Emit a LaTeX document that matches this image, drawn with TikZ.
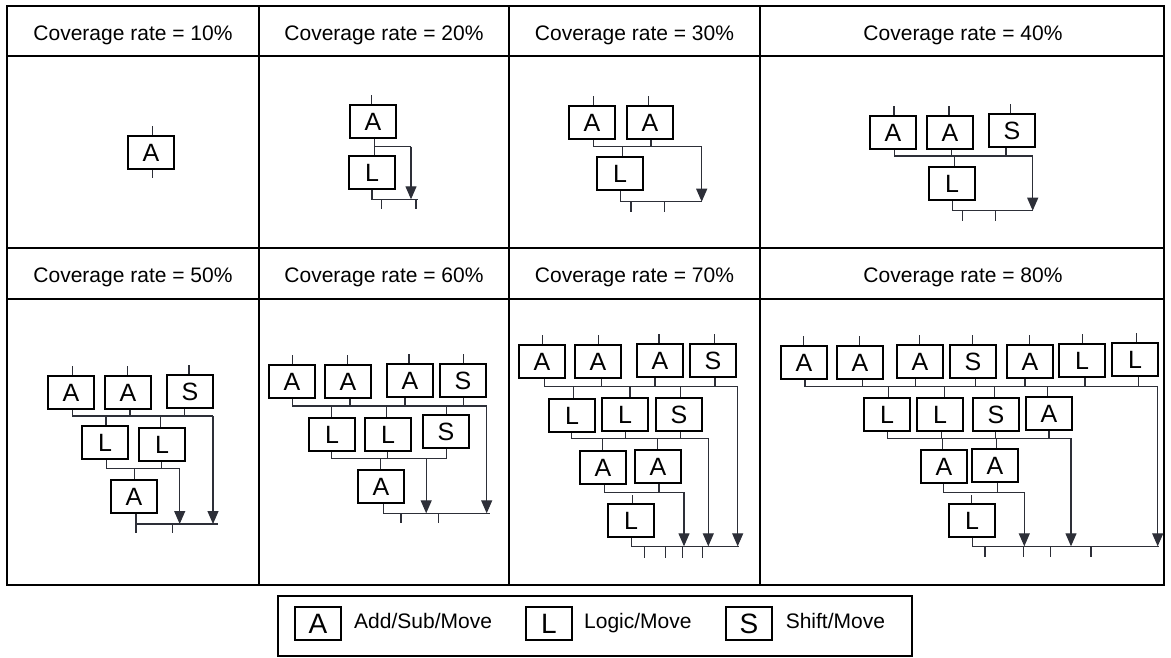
\documentclass[tikz,border=0pt]{standalone}
\usepackage{fontspec}
\setmainfont{Liberation Sans}
\usetikzlibrary{arrows.meta}
\definecolor{wirec}{RGB}{45,47,56}
\begin{document}
\begin{tikzpicture}[x=1pt,y=-1pt,
  tabline/.style={line width=1.5pt,draw=black},
  box/.style={draw=black,line width=1.6pt,fill=white,minimum width=46pt,minimum height=33pt,inner sep=0pt,font=\fontsize{25}{25}\selectfont},
  wire/.style={draw=wirec,line width=1.2pt},
  arr/.style={wire,-{Triangle[width=11pt,length=13pt]}},
  hdr/.style={anchor=base,inner sep=0pt,font=\fontsize{21}{21}\selectfont},
  lgbox/.style={box,font=\fontsize{28}{28}\selectfont},
  lgtxt/.style={anchor=base west,inner sep=0pt,font=\fontsize{21}{21}\selectfont}]
\useasboundingbox (0,0) rectangle (1171,657);

% ---------- table ----------
\draw[tabline] (7,6) rectangle (1164,585);
\draw[tabline] (7,56) -- (1164,56);
\draw[tabline] (7,248) -- (1164,248);
\draw[tabline] (7,299) -- (1164,299);
\draw[tabline] (259,6) -- (259,585);
\draw[tabline] (509,6) -- (509,585);
\draw[tabline] (760,6) -- (760,585);

\node[hdr] (h1) at (133,40.7) {Coverage rate = 10\%};
\node[hdr] (h2) at (384,40.7) {Coverage rate = 20\%};
\node[hdr] (h3) at (634.5,40.7) {Coverage rate = 30\%};
\node[hdr] (h4) at (963,40.7) {Coverage rate = 40\%};
\node[hdr] (h5) at (133,282.5) {Coverage rate = 50\%};
\node[hdr] (h6) at (384,282.5) {Coverage rate = 60\%};
\node[hdr] (h7) at (634.5,282.5) {Coverage rate = 70\%};
\node[hdr] (h8) at (963,282.5) {Coverage rate = 80\%};

% ---------- 10% ----------
\node[box] (c1a) at (151,152.5) {A};
\draw[wire] ([xshift=1.5pt]c1a.north) -- ++(0,-9);
\draw[wire] ([xshift=1.5pt]c1a.south) -- ++(0,8);

% ---------- 20% ----------
\node[box] (c2a) at (373,121.5) {A};
\node[box] (c2l) at (372,172.5) {L};
\coordinate (c2b1) at (411,146.7);
\coordinate (c2o) at (418.3,199.3);
\draw[wire] ([xshift=-1.5pt]c2a.north) -- ++(0,-9);
\draw[wire] ([xshift=1.3pt]c2a.south) |- (c2b1);
\draw[wire] ([xshift=2.3pt]c2l.north) |- (c2b1);
\draw[arr] (c2b1) -- (c2b1 |- c2o);
\draw[wire] (c2l.south) |- (c2o);
\draw[wire] (c2o) ++(-36.6,0) -- ++(0,10);
\draw[wire] (c2o) ++(-2.3,0) -- ++(0,10);

% ---------- 30% ----------
\node[box] (c3a1) at (592,122.5) {A};
\node[box] (c3a2) at (650,122.5) {A};
\node[box] (c3l) at (620,173.5) {L};
\coordinate (c3b1) at (701.7,146.7);
\coordinate (c3o) at (701.7,201.7);
\draw[wire] ([xshift=1.1pt]c3a1.north) -- ++(0,-9);
\draw[wire] ([xshift=-1.5pt]c3a2.north) -- ++(0,-9);
\draw[wire] ([xshift=1.3pt]c3a1.south) |- (c3b1);
\draw[wire] ([xshift=1pt]c3a2.south) |- (c3b1);
\draw[wire] ([xshift=2.7pt]c3l.north) |- (c3b1);
\draw[arr] (c3b1) -- (c3b1 |- c3o);
\draw[wire] ([xshift=0.7pt]c3l.south) |- (c3o);
\draw[wire] (c3o) ++(-70.7,0) -- ++(0,10);
\draw[wire] (c3o) ++(-37.4,0) -- ++(0,10);

% ---------- 40% ----------
\node[box] (c4a1) at (893,132.5) {A};
\node[box] (c4a2) at (950,132.5) {A};
\node[box] (c4s) at (1012,130.5) {S};
\node[box] (c4l) at (952,183.5) {L};
\coordinate (c4b1) at (1032.7,156);
\coordinate (c4o) at (1032.7,210.7);
\draw[wire] ([xshift=1pt]c4a1.north) -- ++(0,-9);
\draw[wire] ([xshift=-1pt]c4a2.north) -- ++(0,-9);
\draw[wire] ([xshift=-1.3pt]c4s.north) -- ++(0,-9);
\draw[wire] ([xshift=1.3pt]c4a1.south) |- (c4b1);
\draw[wire] ([xshift=1.7pt]c4a2.south) |- (c4b1);
\draw[wire] ([xshift=-6pt]c4s.south) |- (c4b1);
\draw[wire] ([xshift=2.3pt]c4l.north) |- (c4b1);
\draw[arr] (c4b1) -- (c4b1 |- c4o);
\draw[wire] ([xshift=0.3pt]c4l.south) |- (c4o);
\draw[wire] (c4o) ++(-70.4,0) -- ++(0,10);
\draw[wire] (c4o) ++(-37,0) -- ++(0,10);

% ---------- 50% ----------
\node[box] (c5a1) at (71,392.5) {A};
\node[box] (c5a2) at (128,392.5) {A};
\node[box] (c5s) at (190,391.5) {S};
\node[box] (c5l1) at (105,442.5) {L};
\node[box] (c5l2) at (162,444.5) {L};
\node[box] (c5a3) at (134,496.5) {A};
\coordinate (c5b1) at (213,416);
\coordinate (c5b2) at (179.7,468.3);
\coordinate (c5o) at (218,524);
\draw[wire] ([xshift=1.7pt]c5a1.north) -- ++(0,-9);
\draw[wire] ([xshift=-0.7pt]c5a2.north) -- ++(0,-9);
\draw[wire] ([xshift=-1pt]c5s.north) -- ++(0,-9);
\draw[wire] ([xshift=1.7pt]c5a1.south) |- (c5b1);
\draw[wire] ([xshift=2pt]c5a2.south) |- (c5b1);
\draw[wire] ([xshift=-5.7pt]c5s.south) |- (c5b1);
\draw[wire] ([xshift=1pt]c5l1.north) |- (c5b1);
\draw[wire] ([xshift=-1.3pt]c5l2.north) |- (c5b1);
\draw[wire] ([xshift=1.7pt]c5l1.south) |- (c5b2);
\draw[wire] ([xshift=-0.3pt]c5l2.south) |- (c5b2);
\draw[wire] ([xshift=0.3pt]c5a3.north) |- (c5b2);
\draw[arr] (c5b1) -- (c5b1 |- c5o);
\draw[arr] (c5b2) -- (c5b2 |- c5o);
\draw[wire] ([xshift=2pt]c5a3.south) |- (c5o);
\draw[wire] (c5o) ++(-82,0) -- ++(0,9);
\draw[wire] (c5o) ++(-45.3,0) -- ++(0,9);

% ---------- 60% ----------
\node[box] (c6a1) at (292,381.5) {A};
\node[box] (c6a2) at (348,381.5) {A};
\node[box] (c6a3) at (410,380.5) {A};
\node[box] (c6s1) at (463,380.5) {S};
\node[box] (c6l1) at (332,434.5) {L};
\node[box] (c6l2) at (388,434.5) {L};
\node[box] (c6s2) at (446,431.5) {S};
\node[box] (c6a4) at (381,486.5) {A};
\coordinate (c6b1) at (486.7,406);
\coordinate (c6b2) at (446.7,458.3);
\coordinate (c6t2) at (426.2,458.3);
\coordinate (c6o) at (490,513.3);
\draw[wire] ([xshift=0.7pt]c6a1.north) -- ++(0,-9);
\draw[wire] ([xshift=-0.3pt]c6a2.north) -- ++(0,-9);
\draw[wire] ([xshift=-1pt]c6a3.north) -- ++(0,-9);
\draw[wire] ([xshift=0.3pt]c6s1.north) -- ++(0,-9);
\draw[wire] ([xshift=0.7pt]c6a1.south) |- (c6b1);
\draw[wire] ([xshift=2pt]c6a2.south) |- (c6b1);
\draw[wire] ([xshift=-5pt]c6a3.south) |- (c6b1);
\draw[wire] ([xshift=0.3pt]c6s1.south) |- (c6b1);
\draw[wire] ([xshift=-0.3pt]c6l1.north) |- (c6b1);
\draw[wire] ([xshift=-1.3pt]c6l2.north) |- (c6b1);
\draw[wire] ([xshift=0.7pt]c6s2.north) |- (c6b1);
\draw[wire] ([xshift=-0.3pt]c6l1.south) |- (c6b2);
\draw[wire] ([xshift=-0.3pt]c6l2.south) |- (c6b2);
\draw[wire] ([xshift=0.7pt]c6s2.south) -- (c6b2);
\draw[wire] ([xshift=-0.3pt]c6a4.north) |- (c6b2);
\draw[arr] (c6b1) -- (c6b1 |- c6o);
\draw[arr] (c6t2) -- (c6t2 |- c6o);
\draw[wire] ([xshift=2.3pt]c6a4.south) |- (c6o);
\draw[wire] (c6o) ++(-89,0) -- ++(0,10);
\draw[wire] (c6o) ++(-51.3,0) -- ++(0,10);

% ---------- 70% ----------
\node[box] (c7a1) at (542,361.5) {A};
\node[box] (c7a2) at (598,361.5) {A};
\node[box] (c7a3) at (660,360.5) {A};
\node[box] (c7s1) at (713,360.5) {S};
\node[box] (c7l1) at (572,415.5) {L};
\node[box] (c7l2) at (625,414.5) {L};
\node[box] (c7s2) at (679,414.5) {S};
\node[box] (c7a4) at (603,467.5) {A};
\node[box] (c7a5) at (658,466.5) {A};
\node[box] (c7l3) at (631,520.5) {L};
\coordinate (c7b1) at (737.7,386.7);
\coordinate (c7b2) at (708.3,438.3);
\coordinate (c7b3) at (684,492.3);
\coordinate (c7o) at (739,546.3);
\draw[wire] ([xshift=0.7pt]c7a1.north) -- ++(0,-9);
\draw[wire] ([xshift=0.3pt]c7a2.north) -- ++(0,-9);
\draw[wire] ([xshift=-1pt]c7a3.north) -- ++(0,-9);
\draw[wire] ([xshift=1.3pt]c7s1.north) -- ++(0,-9);
\draw[wire] ([xshift=2.3pt]c7a1.south) |- (c7b1);
\draw[wire] ([xshift=3.7pt]c7a2.south) |- (c7b1);
\draw[wire] ([xshift=-5pt]c7a3.south) |- (c7b1);
\draw[wire] ([xshift=2pt]c7s1.south) |- (c7b1);
\draw[wire] ([xshift=1.3pt]c7l1.north) |- (c7b1);
\draw[wire] ([xshift=5pt]c7l2.north) |- (c7b1);
\draw[wire] ([xshift=1.7pt]c7s2.north) |- (c7b1);
\draw[wire] ([xshift=-0.3pt]c7l1.south) |- (c7b2);
\draw[wire] ([xshift=0.7pt]c7l2.south) |- (c7b2);
\draw[wire] ([xshift=1.7pt]c7s2.south) |- (c7b2);
\draw[wire] ([xshift=-0.3pt]c7a4.north) |- (c7b2);
\draw[wire] ([xshift=-0.3pt]c7a5.north) |- (c7b2);
\draw[wire] ([xshift=1.3pt]c7a4.south) |- (c7b3);
\draw[wire] ([xshift=1pt]c7a5.south) |- (c7b3);
\draw[wire] ([xshift=1.3pt]c7l3.north) -- ++(0,-8);
\draw[arr] (c7b1) -- (c7b1 |- c7o);
\draw[arr] (c7b2) -- (c7b2 |- c7o);
\draw[arr] (c7b3) -- (c7b3 |- c7o);
\draw[wire] ([xshift=0.7pt]c7l3.south) |- (c7o);
\draw[wire] (c7o) ++(-94.7,0) -- ++(0,12);
\draw[wire] (c7o) ++(-73.3,0) -- ++(0,12);
\draw[wire] (c7o) ++(-56.8,0) -- ++(0,12);
\draw[wire] (c7o) ++(-36.2,0) -- ++(0,12);

% ---------- 80% ----------
\node[box] (c8a1) at (804,362.5) {A};
\node[box] (c8a2) at (860,362.5) {A};
\node[box] (c8a3) at (920,361.5) {A};
\node[box] (c8s1) at (973,361.5) {S};
\node[box] (c8a4) at (1030,361.5) {A};
\node[box] (c8l1) at (1082,360.5) {L};
\node[box] (c8l2) at (1135,359.5) {L};
\node[box] (c8l3) at (887,414.5) {L};
\node[box] (c8l4) at (940,414.5) {L};
\node[box] (c8s2) at (996,414.5) {S};
\node[box] (c8a5) at (1049,413.5) {A};
\node[box] (c8a6) at (944,466.5) {A};
\node[box] (c8a7) at (995,465.5) {A};
\node[box] (c8l5) at (972,520.5) {L};
\coordinate (c8b1) at (1157.7,386.7);
\coordinate (c8b2) at (1071,438.3);
\coordinate (c8b3) at (1024.3,492.3);
\coordinate (c8o) at (1159.3,546.3);
\draw[wire] ([xshift=-0.7pt]c8a1.north) -- ++(0,-9);
\draw[wire] ([xshift=-0.7pt]c8a2.north) -- ++(0,-9);
\draw[wire] ([xshift=-0.7pt]c8a3.north) -- ++(0,-9);
\draw[wire] ([xshift=-0.7pt]c8s1.north) -- ++(0,-9);
\draw[wire] ([xshift=-0.7pt]c8a4.north) -- ++(0,-9);
\draw[wire] ([xshift=0.7pt]c8l1.north) -- ++(0,-9);
\draw[wire] ([xshift=1.7pt]c8l2.north) -- ++(0,-9);
\draw[wire] ([xshift=1pt]c8a1.south) |- (c8b1);
\draw[wire] ([xshift=2.3pt]c8a2.south) |- (c8b1);
\draw[wire] ([xshift=-4.3pt]c8a3.south) |- (c8b1);
\draw[wire] ([xshift=2.7pt]c8s1.south) |- (c8b1);
\draw[wire] ([xshift=-5pt]c8a4.south) |- (c8b1);
\draw[wire] ([xshift=3pt]c8l1.south) |- (c8b1);
\draw[wire] ([xshift=3.3pt]c8l2.south) |- (c8b1);
\draw[wire] ([xshift=1.3pt]c8l3.north) |- (c8b1);
\draw[wire] ([xshift=4.3pt]c8l4.north) |- (c8b1);
\draw[wire] ([xshift=-1.7pt]c8s2.north) |- (c8b1);
\draw[wire] ([xshift=-1.3pt]c8a5.north) |- (c8b1);
\draw[wire] ([xshift=0.7pt]c8l3.south) |- (c8b2);
\draw[wire] ([xshift=1.7pt]c8l4.south) |- (c8b2);
\draw[wire] ([xshift=-0.3pt]c8s2.south) |- (c8b2);
\draw[wire] (c8a5.south) |- (c8b2);
\draw[wire] ([xshift=-1.7pt]c8a6.north) |- (c8b2);
\draw[wire] ([xshift=1.7pt]c8a7.north) |- (c8b2);
\draw[wire] ([xshift=-0.7pt]c8a6.south) |- (c8b3);
\draw[wire] ([xshift=2.7pt]c8a7.south) |- (c8b3);
\draw[wire] ([xshift=-0.3pt]c8l5.north) -- ++(0,-8);
\draw[arr] (c8b1) -- (c8b1 |- c8o);
\draw[arr] (c8b2) -- (c8b2 |- c8o);
\draw[arr] (c8b3) -- (c8b3 |- c8o);
\draw[wire] ([xshift=0.3pt]c8l5.south) |- (c8o);
\draw[wire] (c8o) ++(-174.3,0) -- ++(0,11);
\draw[wire] (c8o) ++(-136,0) -- ++(0,11);
\draw[wire] (c8o) ++(-108.6,0) -- ++(0,11);
\draw[wire] (c8o) ++(-68.3,0) -- ++(0,11);

% ---------- legend ----------
\node[draw=black,line width=1.4pt,minimum width=634pt,minimum height=60pt,inner sep=0pt] (leg) at (595,626) {};
\node[lgbox] (ka) at (318,623.5) {A};
\node[lgtxt] (kat) at (354,628.5) {Add/Sub/Move};
\node[lgbox] (kl) at (549,623.5) {L};
\node[lgtxt] (klt) at (584,628.5) {Logic/Move};
\node[lgbox] (ks) at (749,623.5) {S};
\node[lgtxt] (kst) at (785.6,628.5) {Shift/Move};
\end{tikzpicture}
\end{document}
